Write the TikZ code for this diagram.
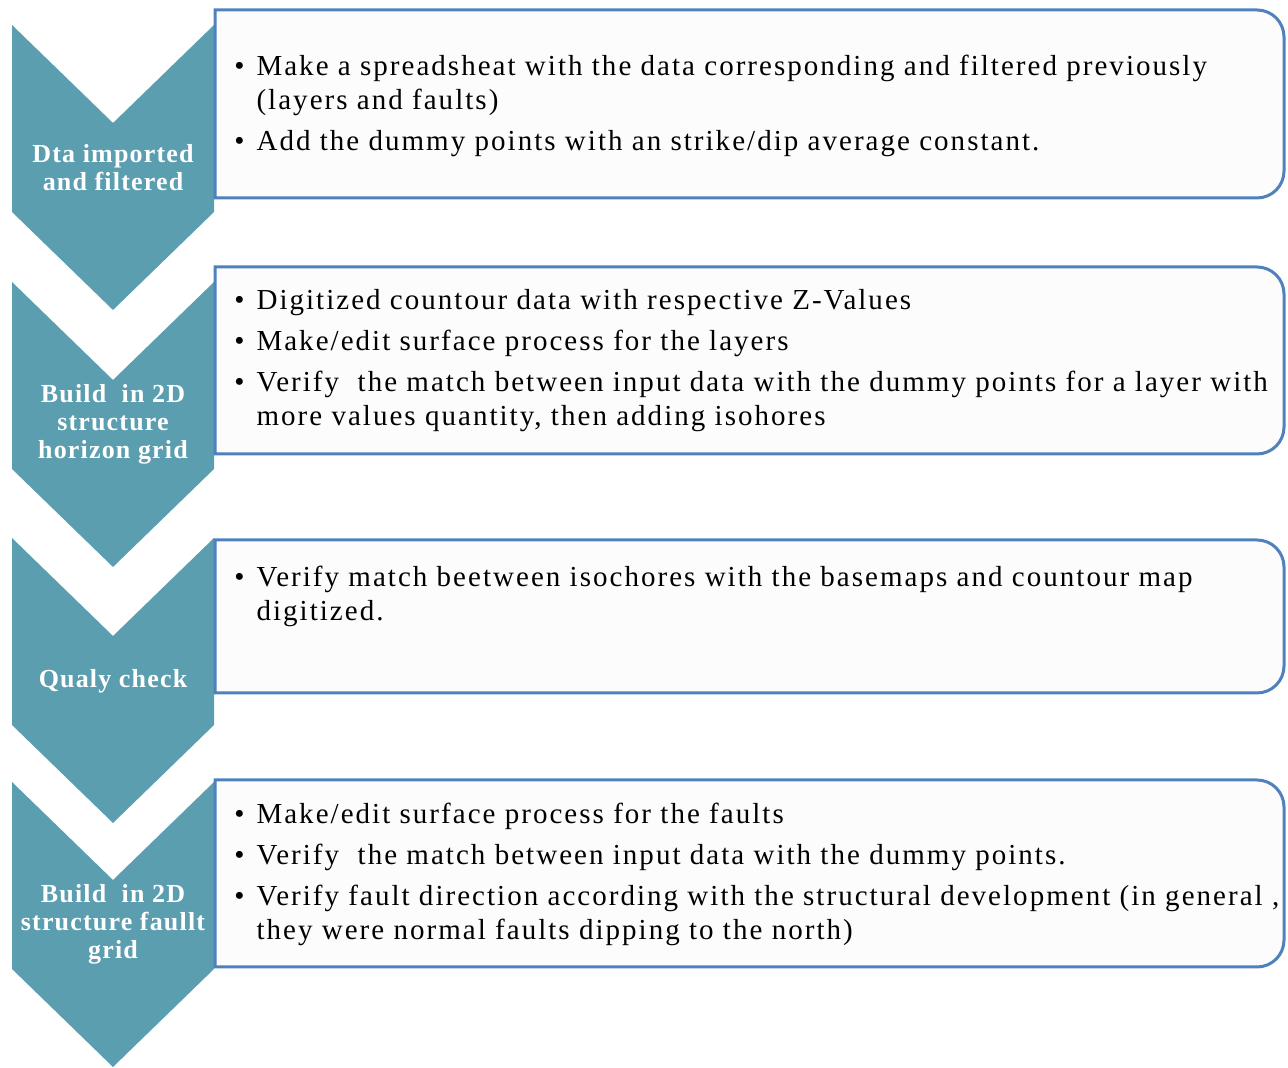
\documentclass[tikz,border=0pt]{standalone}
\usepackage{fontspec}
\setmainfont{Liberation Serif}
\newfontfamily\stepfont[LetterSpace=7]{Liberation Serif}
\newfontfamily\chevfont[LetterSpace=4.5]{Liberation Serif}
\usepackage{array}

\definecolor{chevteal}{RGB}{91,158,176}
\definecolor{boxblue}{RGB}{79,129,189}
\definecolor{boxfill}{RGB}{252,252,252}

\tikzset{
	chevron/.style={fill=chevteal, draw=none},
	stepframe/.style={draw=boxblue, fill=boxfill, line width=1.5pt},
	steplabel/.style={text=white, align=center, inner sep=0pt,
		font=\chevfont\bfseries\fontsize{13}{14}\selectfont},
	steptext/.style={anchor=base west, inner sep=0pt,
		font=\stepfont\fontsize{14.5}{17}\selectfont}
}

% bullet list as a two column table
\newcommand{\bulletlist}[1]{\begin{tabular}[t]{@{}l@{\hspace{6pt}}l@{}}#1\end{tabular}}

\begin{document}
\begin{tikzpicture}[x=0.5pt, y=0.5pt]
	\useasboundingbox (0,0) rectangle (1288,1068);
	
	% chevrons
	\fill[chevron] (12,1043) -- (113,945) -- (214,1043) -- (214,856) -- (113,758) -- (12,856) -- cycle;
	\fill[chevron] (12,786) -- (113,688) -- (214,786) -- (214,599) -- (113,501) -- (12,599) -- cycle;
	\fill[chevron] (12,530) -- (113,432) -- (214,530) -- (214,343) -- (113,245) -- (12,343) -- cycle;
	\fill[chevron] (12,286) -- (113,188) -- (214,286) -- (214,99) -- (113,1) -- (12,99) -- cycle;
	
	% frames, rounded on the right side only
	\draw[stepframe] (215,870) -- (215,1058) -- (1257,1058) arc[start angle=90, end angle=0, radius=13.5pt]
		-- (1284,897) arc[start angle=0, end angle=-90, radius=13.5pt] -- cycle;
	\draw[stepframe] (215,614) -- (215,801) -- (1257,801) arc[start angle=90, end angle=0, radius=13.5pt]
		-- (1284,641) arc[start angle=0, end angle=-90, radius=13.5pt] -- cycle;
	\draw[stepframe] (215,375) -- (215,528) -- (1257,528) arc[start angle=90, end angle=0, radius=13.5pt]
		-- (1284,402) arc[start angle=0, end angle=-90, radius=13.5pt] -- cycle;
	\draw[stepframe] (215,101) -- (215,288) -- (1257,288) arc[start angle=90, end angle=0, radius=13.5pt]
		-- (1284,128) arc[start angle=0, end angle=-90, radius=13.5pt] -- cycle;
	
	% step names
	\node[steplabel] (import) at (113,900) {Dta imported\\and filtered};
	\node[steplabel] (horizon) at (113,644) {Build\ \ in 2D\\structure\\horizon grid};
	\node[steplabel] (check) at (113,387) {Qualy check};
	\node[steplabel] (fault) at (113,144) {Build\ \ in 2D\\structure faullt\\grid};
	
	% step details
	\node[steptext] (importtext) at (234,992) {\bulletlist{
		\textbullet & Make a spreadsheat with the data corresponding and filtered previously\\
		& (layers and faults)\\[3.5pt]
		\textbullet & Add the dummy points with an strike/dip average constant.}};
	\node[steptext] (horizontext) at (234,758) {\bulletlist{
		\textbullet & Digitized countour data with respective Z-Values\\[3.5pt]
		\textbullet & Make/edit surface process for the layers\\[3.5pt]
		\textbullet & Verify\ \ the match between input data with the dummy points for a layer with\\
		& more values quantity, then adding isohores}};
	\node[steptext] (checktext) at (234,481) {\bulletlist{
		\textbullet & Verify match beetween isochores with the basemaps and countour map\\
		& digitized.}};
	\node[steptext] (faulttext) at (234,244) {\bulletlist{
		\textbullet & Make/edit surface process for the faults\\[3.5pt]
		\textbullet & Verify\ \ the match between input data with the dummy points.\\[3.5pt]
		\textbullet & Verify fault direction according with the structural development (in general ,\\
		& they were normal faults dipping to the north)}};
	
\end{tikzpicture}
\end{document}
